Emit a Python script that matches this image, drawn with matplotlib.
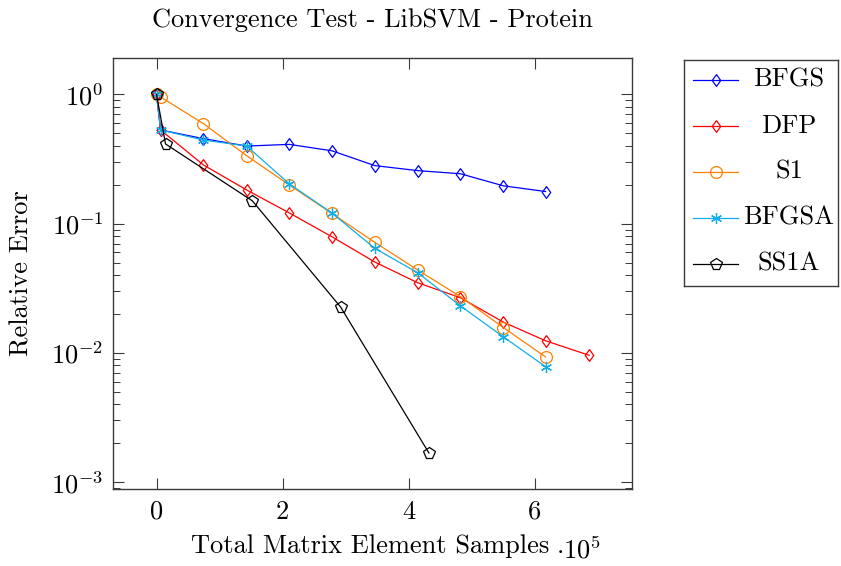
import numpy as np
import matplotlib
matplotlib.use("Agg")
import matplotlib.pyplot as plt
from matplotlib.ticker import LogLocator, LogFormatterSciNotation, MultipleLocator, FuncFormatter, NullFormatter

plt.rcParams['font.family'] = 'serif'
plt.rcParams['font.serif'] = ['cmr10']
plt.rcParams['mathtext.fontset'] = 'cm'
plt.rcParams['axes.formatter.use_mathtext'] = True

# samples (x) and relative error (y)
x_grid = [0, 6500, 74500, 143000, 210500, 278000, 346000, 414000, 482000, 550000, 617000, 686000]

bfgs_x = x_grid[:11]
bfgs_y = [1.0, 0.530, 0.454, 0.398, 0.410, 0.366, 0.281, 0.257, 0.243, 0.196, 0.177]

dfp_x = x_grid
dfp_y = [1.0, 0.530, 0.284, 0.182, 0.121, 0.0792, 0.0505, 0.0349, 0.0267, 0.0173, 0.0124, 0.00958]

s1_x = x_grid[:11]
s1_y = [1.0, 0.953, 0.593, 0.335, 0.199, 0.120, 0.0717, 0.0438, 0.0272, 0.0157, 0.00929]

bfgsa_x = x_grid[:11]
bfgsa_y = [1.0, 0.530, 0.443, 0.398, 0.203, 0.121, 0.0644, 0.0417, 0.0231, 0.0133, 0.00782]

ss1a_x = [0, 14300, 152000, 292000, 432000]
ss1a_y = [1.0, 0.413, 0.150, 0.0226, 0.00168]

labels = ['BFGS', 'DFP', 'S1', 'BFGSA', 'SS1A']
colors = ['#0000ff', '#ff0000', '#ff8000', '#10aee8', '#000000']
diamond = [(0, 1), (0.72, 0), (0, -1), (-0.72, 0), (0, 1)]  # pgfplots style diamond
markers = [diamond, diamond, 'o', (6, 2, 0), 'p']
msizes = [8.5, 8.5, 8.5, 8, 8.5]
fs = 19

W, H = 841, 566
fig = plt.figure(figsize=(W / 100, H / 100), dpi=100)
ax = fig.add_axes([113 / W, 1 - 489 / H, (632 - 113) / W, (489 - 58) / H])

series = [(bfgs_x, bfgs_y), (dfp_x, dfp_y), (s1_x, s1_y), (bfgsa_x, bfgsa_y), (ss1a_x, ss1a_y)]
lines = []
for (xs, ys), lab, c, m, ms in zip(series, labels, colors, markers, msizes):
    ln, = ax.plot(xs, ys, color=c, lw=0.9, marker=m, ms=ms, mfc='none', mec=c, mew=0.9, label=lab)
    lines.append(ln)

ax.set_yscale('log')
ax.set_xlim(-69000, 754000)
ax.set_ylim(10 ** -3.053, 10 ** 0.281)

ax.xaxis.set_major_locator(MultipleLocator(200000))
ax.xaxis.set_major_formatter(FuncFormatter(lambda v, p: f"{v / 1e5:g}"))
ax.yaxis.set_major_locator(LogLocator(base=10))
ax.yaxis.set_major_formatter(LogFormatterSciNotation())
ax.yaxis.set_minor_locator(LogLocator(base=10, subs=np.arange(2, 10)))
ax.yaxis.set_minor_formatter(NullFormatter())

edge = '#3a3a3a'
for s in ax.spines.values():
    s.set_color(edge)
    s.set_linewidth(1.0)
ax.tick_params(which='both', direction='in', top=True, right=True, color=edge, labelsize=fs)
ax.tick_params(which='major', length=8, width=0.8)
ax.tick_params(which='minor', length=5, width=0.7)
ax.tick_params(axis='x', pad=8)
ax.tick_params(axis='y', pad=7)

fig.text(372.5 / W, 1 - 20 / H, 'Convergence Test - LibSVM - Protein', ha='center', va='center', fontsize=fs)
fig.text(370 / W, 1 - 546 / H, 'Total Matrix Element Samples', ha='center', va='center', fontsize=fs)
fig.text(556 / W, 1 - 550 / H, r'$\cdot 10^5$', ha='left', va='center', fontsize=fs)
fig.text(22 / W, 1 - 273.5 / H, 'Relative Error', ha='center', va='center', rotation=90, fontsize=fs)

# legend box drawn by hand so that the labels are centred as in the original
lax = fig.add_axes([684 / W, 1 - 286 / H, (838 - 684) / W, (286 - 60) / H])
lax.set_xlim(684, 838)
lax.set_ylim(286, 60)
lax.set_xticks([])
lax.set_yticks([])
for s in lax.spines.values():
    s.set_color(edge)
    s.set_linewidth(1.0)
for i, ln in enumerate(lines):
    yy = 80 + 46 * i
    lax.plot([693, 738], [yy, yy], color=ln.get_color(), lw=0.9)
    lax.plot([715.5], [yy], color=ln.get_color(), marker=ln.get_marker(), ms=ln.get_markersize(),
             mfc='none', mec=ln.get_color(), mew=0.9, ls='none')
    lax.text(789, yy, ln.get_label(), ha='center', va='center', fontsize=fs)

fig.savefig('out.png', dpi=100)
